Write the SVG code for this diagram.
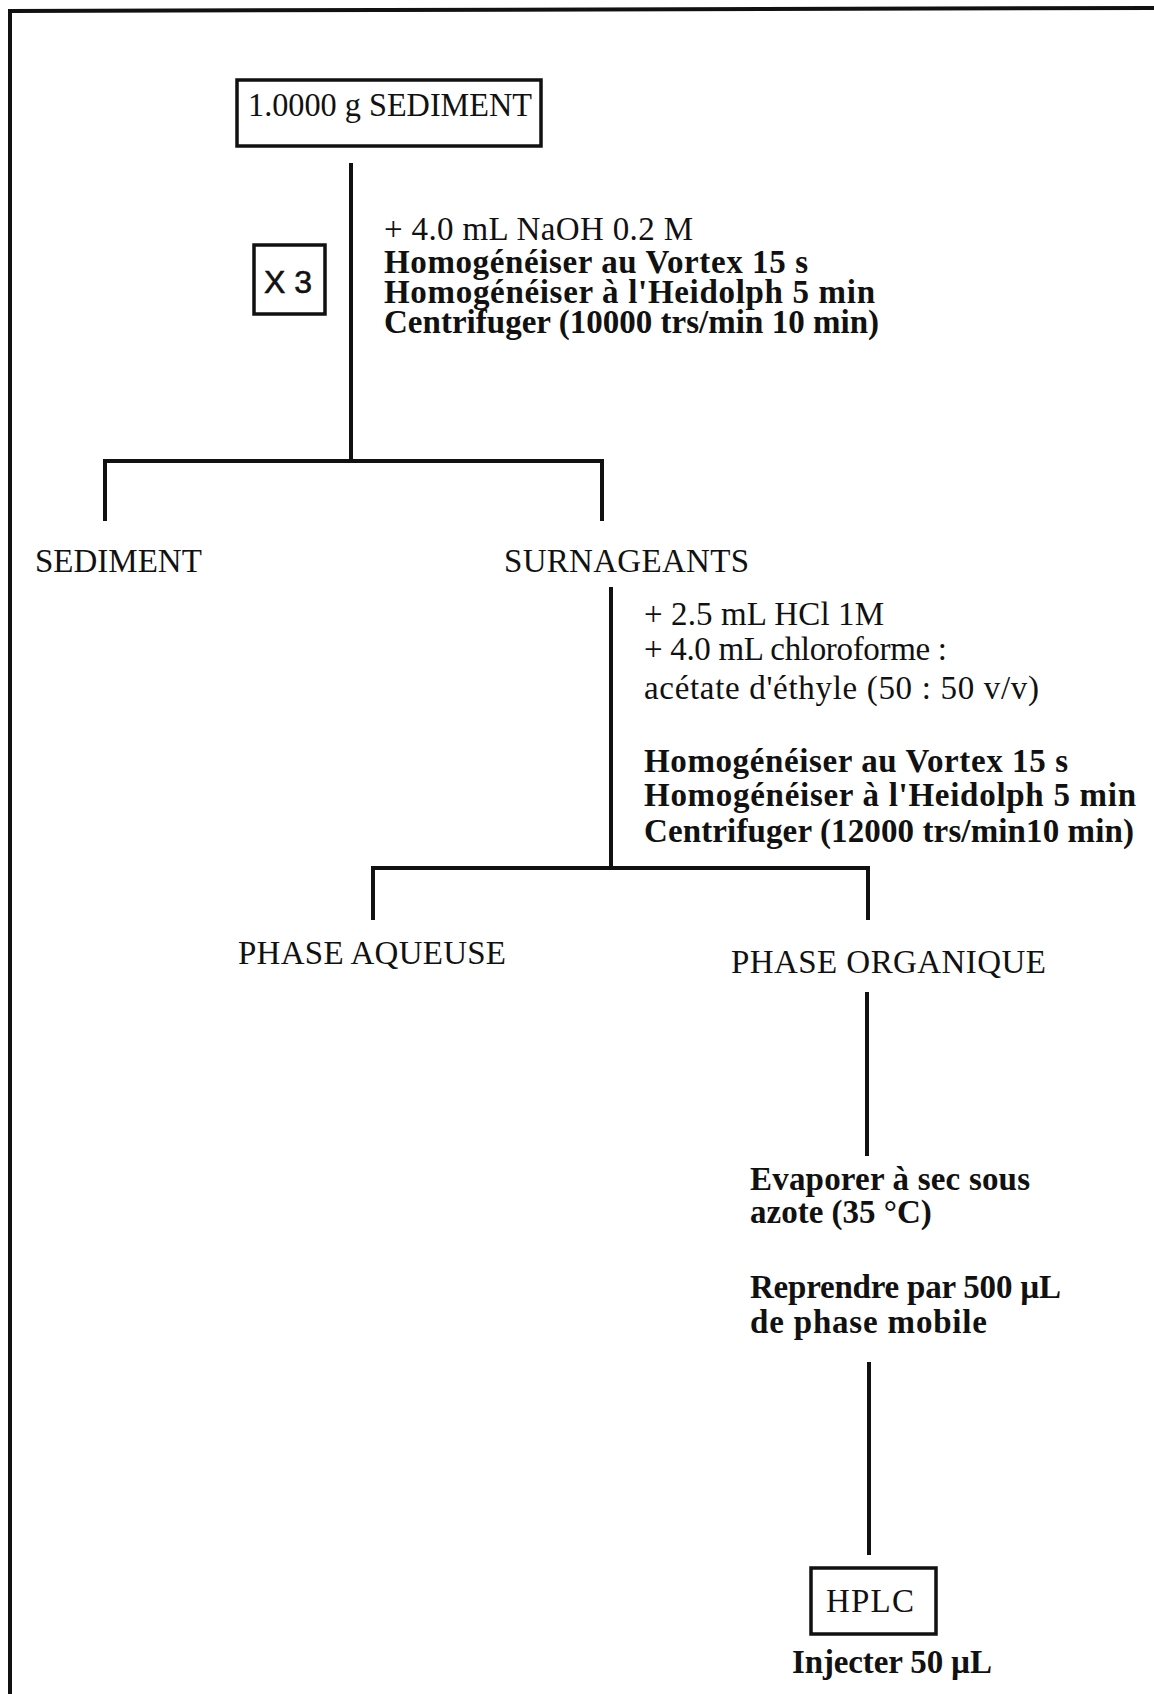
<svg xmlns="http://www.w3.org/2000/svg" width="1154" height="1694" viewBox="0 0 1154 1694">
<style>
.t{font-family:"Liberation Serif","Times New Roman",serif;font-size:33px;fill:#111}
.b{font-weight:bold}
.s{font-family:"Liberation Sans",Arial,sans-serif;font-size:32px;fill:#111;stroke:#111;stroke-width:0.6}
.ln{stroke:#111;stroke-width:4;fill:none;stroke-linecap:square}
.bx{stroke:#111;stroke-width:3.5;fill:#fff}
</style>
<rect width="1154" height="1694" fill="#fff"/>
<g id="frame">
<path class="ln" d="M10,1694 L10,11 L1154,8" stroke-width="5"/>
</g>
<g id="connectors">
<path class="ln" d="M351,165 L351,461"/>
<path class="ln" d="M105,519 L105,461 L602,461 L602,519"/>
<path class="ln" d="M611,589 L611,868"/>
<path class="ln" d="M373,918 L373,868 L868,868 L868,918"/>
<path class="ln" d="M867,994 L867,1154"/>
<path class="ln" d="M869,1364 L869,1553"/>
</g>
<g id="n-start">
<rect class="bx" x="237" y="80" width="304" height="66"/>
<text class="t" x="248" y="116" textLength="284" lengthAdjust="spacingAndGlyphs">1.0000 g SEDIMENT</text>
</g>
<g id="n-x3">
<rect class="bx" x="254" y="245" width="71" height="69"/>
<text class="s" x="264" y="293">X 3</text>
</g>
<g id="n-step1">
<text class="t" x="384" y="240" textLength="309">+ 4.0 mL NaOH 0.2 M</text>
<text class="t b" x="384" y="273" textLength="424">Homogénéiser au Vortex 15 s</text>
<text class="t b" x="384" y="303" textLength="491">Homogénéiser à l'Heidolph 5 min</text>
<text class="t b" x="384" y="333" textLength="495">Centrifuger (10000 trs/min 10 min)</text>
</g>
<g id="n-sediment">
<text class="t" x="35" y="572">SEDIMENT</text>
</g>
<g id="n-surnageants">
<text class="t" x="504" y="572" textLength="245">SURNAGEANTS</text>
</g>
<g id="n-step2">
<text class="t" x="644" y="625" textLength="240">+ 2.5 mL HCl 1M</text>
<text class="t" x="644" y="660" textLength="303">+ 4.0 mL chloroforme :</text>
<text class="t" x="644" y="699" textLength="395">acétate d'éthyle (50 : 50 v/v)</text>
<text class="t b" x="644" y="772" textLength="424">Homogénéiser au Vortex 15 s</text>
<text class="t b" x="644" y="806" textLength="492">Homogénéiser à l'Heidolph 5 min</text>
<text class="t b" x="644" y="842" textLength="490">Centrifuger (12000 trs/min10 min)</text>
</g>
<g id="n-aqueuse">
<text class="t" x="238" y="964" textLength="268">PHASE AQUEUSE</text>
</g>
<g id="n-organique">
<text class="t" x="731" y="973" textLength="315">PHASE ORGANIQUE</text>
</g>
<g id="n-step3">
<text class="t b" x="750" y="1190" textLength="280">Evaporer à sec sous</text>
<text class="t b" x="750" y="1223">azote (35 °C)</text>
<text class="t b" x="750" y="1298" textLength="311">Reprendre par 500 µL</text>
<text class="t b" x="750" y="1333" textLength="237">de phase mobile</text>
</g>
<g id="n-hplc">
<rect class="bx" x="811" y="1568" width="125" height="66"/>
<text class="t" x="826" y="1612" textLength="88">HPLC</text>
<text class="t b" x="792" y="1673" textLength="200">Injecter 50 µL</text>
</g>
</svg>
